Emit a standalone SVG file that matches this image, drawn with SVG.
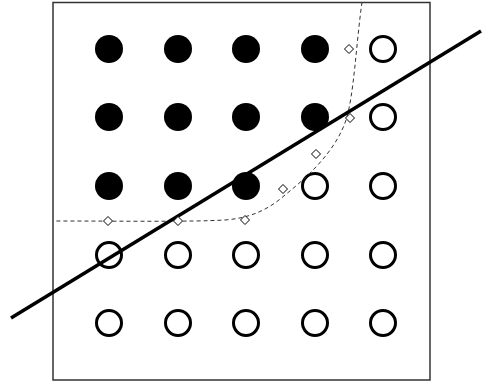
<svg xmlns="http://www.w3.org/2000/svg" width="482" height="382" viewBox="0 0 482 382">
<style>
.f{fill:#000;stroke:none}
.o{fill:#fff;stroke:#000;stroke-width:3}
.d{fill:#fff;stroke:#000;stroke-width:1}
.dash{fill:none;stroke:#333;stroke-width:1;stroke-dasharray:4 3}
</style>
<defs>
<circle id="fc" r="14" class="f"/>
<circle id="oc" r="12.5" class="o"/>
<path id="dm" d="M0,-4.5 L4.5,0 L0,4.5 L-4.5,0 Z" class="d"/>
</defs>
<rect x="53" y="2.5" width="377" height="377.5" fill="#fff" stroke="#333" stroke-width="1.5"/>
<g id="nodes">
<g id="r1c1"><use href="#fc" x="109" y="49"/></g>
<g id="r1c2"><use href="#fc" x="178" y="49"/></g>
<g id="r1c3"><use href="#fc" x="246" y="49"/></g>
<g id="r1c4"><use href="#fc" x="315" y="49"/></g>
<g id="r1c5"><use href="#oc" x="383" y="49"/></g>
<g id="r2c1"><use href="#fc" x="109" y="117"/></g>
<g id="r2c2"><use href="#fc" x="178" y="117"/></g>
<g id="r2c3"><use href="#fc" x="246" y="117"/></g>
<g id="r2c4"><use href="#fc" x="315" y="117"/></g>
<g id="r2c5"><use href="#oc" x="383" y="117"/></g>
<g id="r3c1"><use href="#fc" x="109" y="186"/></g>
<g id="r3c2"><use href="#fc" x="178" y="186"/></g>
<g id="r3c3"><use href="#fc" x="246" y="186"/></g>
<g id="r3c4"><use href="#oc" x="315" y="186"/></g>
<g id="r3c5"><use href="#oc" x="383" y="186"/></g>
<g id="r4c1"><use href="#oc" x="109" y="255"/></g>
<g id="r4c2"><use href="#oc" x="178" y="255"/></g>
<g id="r4c3"><use href="#oc" x="246" y="255"/></g>
<g id="r4c4"><use href="#oc" x="315" y="255"/></g>
<g id="r4c5"><use href="#oc" x="383" y="255"/></g>
<g id="r5c1"><use href="#oc" x="109" y="323"/></g>
<g id="r5c2"><use href="#oc" x="178" y="323"/></g>
<g id="r5c3"><use href="#oc" x="246" y="323"/></g>
<g id="r5c4"><use href="#oc" x="315" y="323"/></g>
<g id="r5c5"><use href="#oc" x="383" y="323"/></g>
</g>
<g id="connectors">
<path class="dash" d="M362,2 C356,45 354,95 346,120 C336,150 310,175 285,195 C268,210 250,218 225,220 C190,222 120,221 53,221"/>
<line x1="11" y1="318" x2="481" y2="31" stroke="#000" stroke-width="3.5"/>
<use href="#dm" x="349" y="49"/>
<use href="#dm" x="350" y="118"/>
<use href="#dm" x="316" y="154"/>
<use href="#dm" x="283" y="189"/>
<use href="#dm" x="245" y="220"/>
<use href="#dm" x="178" y="221"/>
<use href="#dm" x="108" y="221"/>
</g>
</svg>
